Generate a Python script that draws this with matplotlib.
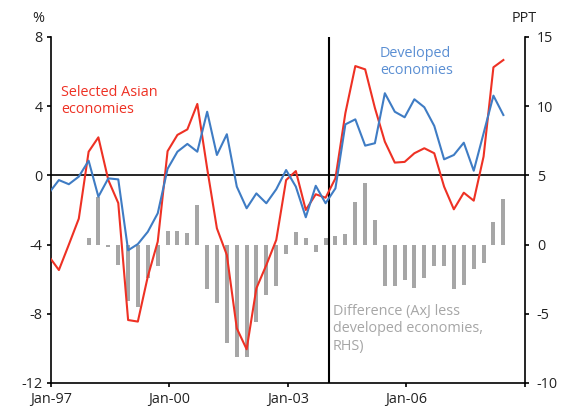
import matplotlib
matplotlib.use("Agg")
import matplotlib.pyplot as plt
import numpy as np
import pandas as pd

# quarterly observations, Dec-96 .. Jun-08 (mid quarter-end month)
quarters = pd.date_range("1996-12-01", periods=47, freq="3MS") + pd.Timedelta(days=14)

asia = [-4.7, -5.47, -4.0, -2.5, 1.37, 2.2, -0.27, -1.6, -8.36, -8.45, -5.85, -3.83,
        1.4, 2.34, 2.66, 4.13, 0.4, -3.06, -4.6, -8.84, -10.05, -6.53, -5.18, -3.73,
        -0.27, 0.25, -2.0, -1.09, -1.29, -0.17, 3.6, 6.32, 6.13, 3.9, 1.95, 0.74,
        0.78, 1.28, 1.57, 1.28, -0.65, -1.96, -1.0, -1.46, 1.09, 6.25, 6.67]

developed = [-1.0, -0.27, -0.51, -0.07, 0.85, -1.23, -0.17, -0.23, -4.33, -3.97, -3.26, -2.19,
             0.38, 1.37, 1.82, 1.37, 3.68, 1.18, 2.38, -0.65, -1.9, -1.04, -1.61, -0.8,
             0.31, -0.65, -2.42, -0.6, -1.61, -0.75, 2.95, 3.24, 1.72, 1.86, 4.75, 3.68,
             3.36, 4.4, 3.94, 2.86, 0.93, 1.18, 1.89, 0.27, 2.43, 4.61, 3.49]

# difference bars (RHS), from Dec-97
diff_start = 4
difference = [0.5, 3.46, -0.15, -1.47, -4.05, -4.49, -2.39, -1.52,
              1.0, 1.0, 0.86, 2.86, -3.21, -4.24, -7.09, -8.14,
              -8.14, -5.57, -3.64, -2.99, -0.65, 0.93, 0.45, -0.51,
              0.45, 0.62, 0.77, 3.1, 4.47, 1.78, -2.97, -2.97,
              -2.56, -3.13, -2.39, -1.52, -1.52, -3.2, -2.91, -1.75,
              -1.3, 1.61, 3.28]

left_ticks = [-12, -8, -4, 0, 4, 8]
right_ticks = [-10, -5, 0, 5, 10, 15]
x_ticks = ["1997-01-01", "2000-01-01", "2003-01-01", "2006-01-01", "2009-01-01"]
x_labels = ["Jan-97", "Jan-00", "Jan-03", "Jan-06", ""]
break_date = "2004-01-15"

RED = "#ee3124"
BLUE = "#3f7cc4"
GREY = "#a6a6a6"
INK = "#222222"
FS = 10.4

plt.rcParams["font.family"] = ["Open Sans", "DejaVu Sans"]
plt.rcParams["font.size"] = FS
plt.rcParams["axes.unicode_minus"] = False

fig = plt.figure(figsize=(5.61, 4.16), dpi=100)
ax = fig.add_axes([51 / 561, 1 - 383 / 416, 474 / 561, 346 / 416])
ax2 = ax.twinx()
ax.set_zorder(ax2.get_zorder() + 1)
ax.patch.set_visible(False)

ax2.bar(quarters[diff_start:], difference, width=38, color=GREY, zorder=1)
ax2.set_ylim(-10, 15)
ax2.set_yticks(right_ticks)

ax.plot(quarters, asia, color=RED, lw=1.5, zorder=3)
ax.plot(quarters, developed, color=BLUE, lw=1.5, zorder=3)
ax.axhline(0, color="black", lw=1.2, zorder=2)
ax.axvline(pd.Timestamp(break_date), color="black", lw=1.5, zorder=2)

ax.set_ylim(-12, 8)
ax.set_yticks(left_ticks)
ax.set_xlim(pd.Timestamp("1997-01-01"), pd.Timestamp("2009-01-01"))
ax.set_xticks([pd.Timestamp(t) for t in x_ticks])
ax.set_xticklabels(x_labels)

for a in (ax, ax2):
    a.spines["top"].set_visible(False)
    for s in ("left", "right", "bottom"):
        a.spines[s].set_linewidth(1.2)
    a.tick_params(length=3, width=1.2, colors="black", labelcolor=INK, labelsize=FS)
ax.spines["right"].set_visible(False)
ax2.spines["left"].set_visible(False)
ax2.spines["bottom"].set_visible(False)
ax.tick_params(axis="x", pad=3.5)
ax.tick_params(axis="y", pad=3)
ax2.tick_params(axis="y", pad=5.5)

ax.text(0.022, 0.862, "Selected Asian\neconomies", transform=ax.transAxes,
        color=RED, fontsize=FS, va="top", ha="left", linespacing=1.2)
ax.text(0.694, 0.975, "Developed\neconomies", transform=ax.transAxes,
        color="#5b8fd3", fontsize=FS, va="top", ha="left", linespacing=1.2)
ax.text(0.594, 0.228, "Difference (AxJ less\ndeveloped economies,\nRHS)", transform=ax.transAxes,
        color=GREY, fontsize=FS, va="top", ha="left", linespacing=1.2)

fig.text(32 / 561, 1 - 19 / 416, "%", fontsize=FS, color=INK, va="center", ha="left")
fig.text(512 / 561, 1 - 19 / 416, "PPT", fontsize=FS, color=INK, va="center", ha="left")

fig.savefig("out.png", dpi=100)
